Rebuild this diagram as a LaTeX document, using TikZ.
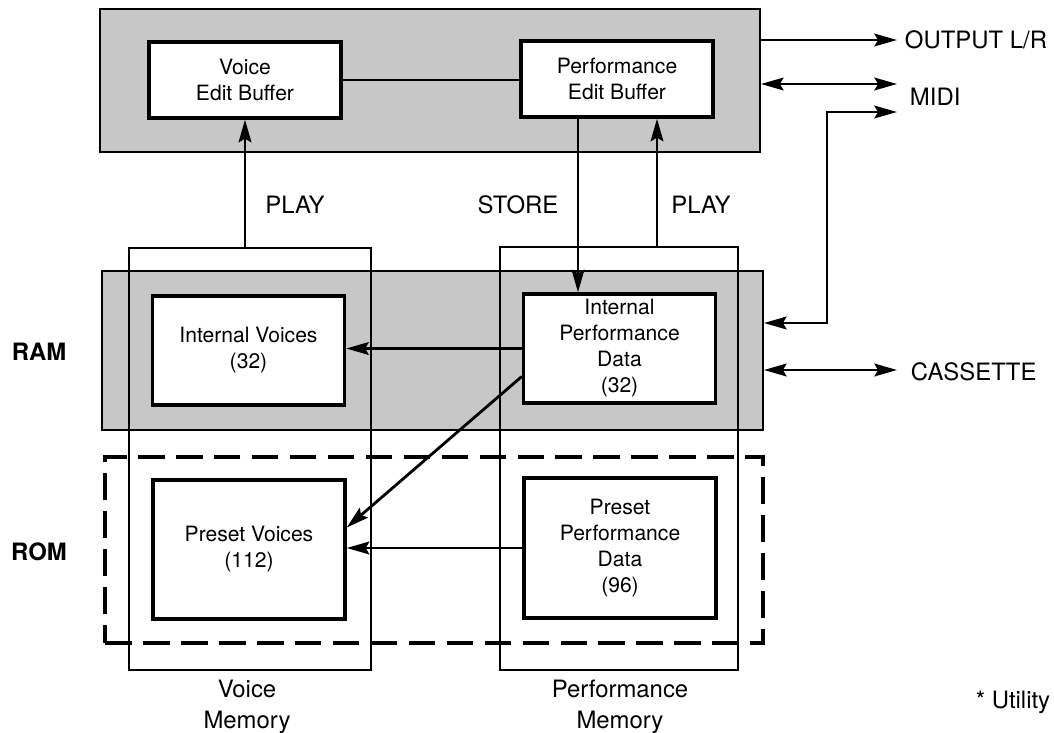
\documentclass[tikz,border=0pt]{standalone}
\usepackage{fontspec}
\setmainfont{TeX Gyre Heros}
\usetikzlibrary{arrows.meta}
\tikzstyle{shaded} = [rectangle, draw=black, line width=1.2pt, fill=black!22]
\tikzstyle{memory} = [rectangle, draw=black, line width=0.9pt]
\tikzstyle{buffer} = [rectangle, minimum width=4.8cm, text centered, align=center, draw=black, line width=2.4pt, fill=white, font=\fontsize{15}{18.5}\selectfont]
\tikzstyle{outtext} = [align=center, font=\fontsize{17}{22}\selectfont]
\tikzstyle{arrow} = [line width=2pt, -{Stealth[length=16pt,width=9pt,inset=2.5pt]}]
\tikzstyle{dblarrow} = [line width=2pt, {Stealth[length=16pt,width=9pt,inset=2.5pt]}-{Stealth[length=16pt,width=9pt,inset=2.5pt]}]

\begin{document}
\begin{tikzpicture}[x=0.025cm, y=-0.025cm]
        \useasboundingbox (0,0) rectangle (1054,732);
        % shaded areas and memory frames
        \node (topbuf) [shaded, minimum width=16.5cm, minimum height=3.575cm] at (430,80.5) {};
        \node (ram) [shaded, minimum width=16.525cm, minimum height=3.975cm] at (432.5,350.5) {};
        \node (rom) [rectangle, draw=black, line width=2.6pt, dash pattern=on 19pt off 8pt, minimum width=16.45cm, minimum height=4.65cm] at (434,550) {};
        \node (vmem) [memory, minimum width=6.05cm, minimum height=10.55cm] at (250,459) {};
        \node (pmem) [memory, minimum width=5.95cm, minimum height=10.575cm] at (619,458.5) {};

        \node (veb) [buffer, minimum height=1.9cm] at (245,80) {Voice\\Edit Buffer};
        \node (peb) [buffer, minimum height=1.9cm] at (617,79) {Performance\\Edit Buffer};
        \node (iv) [buffer, minimum height=2.725cm] at (248.5,350.5) {Internal Voices\\(32)};
        \node (ipd) [buffer, minimum height=2.725cm] at (619.5,348.5) {Internal\\Performance\\Data\\(32)};
        \node (pv) [buffer, minimum height=3.475cm] at (249,549.5) {Preset Voices\\(112)};
        \node (ppd) [buffer, minimum height=3.5cm] at (620,548) {Preset\\Performance\\Data\\(96)};

        \node (playv) [outtext] at (295,205) {PLAY};
        \node (store) [outtext] at (518,205) {STORE};
        \node (playp) [outtext] at (701,205) {PLAY};
        \node (ramlbl) [outtext] at (39,352) {\bfseries RAM};
        \node (romlbl) [outtext] at (39,552) {\bfseries ROM};
        \node (vmemlbl) [outtext] at (247,707) {Voice\\Memory};
        \node (pmemlbl) [outtext] at (620,707) {Performance\\Memory};
        \node (utility) [outtext] at (1013,702) {* Utility};

        \coordinate (outend) at (897,40);
        \coordinate (midiend) at (897,84);
        \coordinate (midiout) at (897,112);
        \coordinate (midibend) at (827,323);
        \coordinate (casend) at (897,370);
        \node (output) [outtext, anchor=west] at (900,40) {OUTPUT L/R};
        \node (midi) [outtext, anchor=west] at (905,97) {MIDI};
        \node (cassette) [outtext, anchor=west] at (906,372) {CASSETTE};

        \draw [line width=2pt] (veb.east) -- (veb.east -| peb.west);
        \draw [arrow] (vmem.north -| veb.south) -- (veb.south);
        \draw [arrow] ([xshift=-0.975cm]peb.south) -- ([xshift=-0.975cm]peb.south |- ipd.north);
        \draw [arrow] ([xshift=1cm]peb.south |- pmem.north) -- ([xshift=1cm]peb.south);
        \draw [arrow] (ipd.west) -- (ipd.west -| iv.east);
        \draw [arrow] ([yshift=-0.7cm]ipd.west) -- ([yshift=0.55cm]pv.east);
        \draw [arrow] (ppd.west) -- (ppd.west -| pv.east);

        \draw [arrow] (topbuf.east |- outend) -- (outend);
        \draw [dblarrow] (topbuf.east |- midiend) -- (midiend);
        \draw [dblarrow] (ram.east |- midibend) -- (midibend) |- (midiout);
        \draw [dblarrow] (ram.east |- casend) -- (casend);
    \end{tikzpicture}
\end{document}
